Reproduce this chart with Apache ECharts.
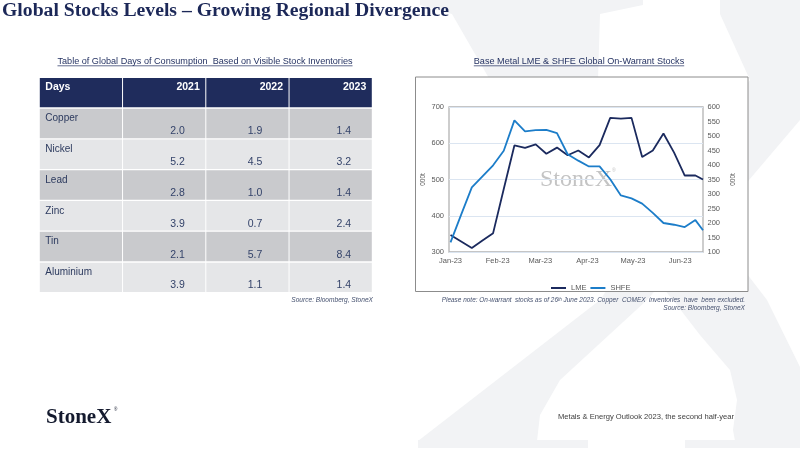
<!DOCTYPE html>
<html>
<head>
<meta charset="utf-8">
<title>Global Stocks Levels</title>
<script src="https://cdn.jsdelivr.net/npm/echarts@6/dist/echarts.min.js"></script>
<style>
  html, body { margin: 0; padding: 0; background: #fff; }
  #main { width: 800px; height: 450px; }
</style>
</head>
<body>
<div id="main"></div>
<script>
// table of global days of consumption
var tableHead = ['Days', '2021', '2022', '2023'];
var metals = ['Copper', 'Nickel', 'Lead', 'Zinc', 'Tin', 'Aluminium'];
var days2021 = [2.0, 5.2, 2.8, 3.9, 2.1, 3.9];
var days2022 = [1.9, 4.5, 1.0, 0.7, 5.7, 1.1];
var days2023 = [1.4, 3.2, 1.4, 2.4, 8.4, 1.4];

// on-warrant stocks, 000t, weekly
var weeks = ['2023-01-01', '2023-01-08', '2023-01-15', '2023-01-22', '2023-01-29',
  '2023-02-05', '2023-02-12', '2023-02-19', '2023-02-26',
  '2023-03-05', '2023-03-12', '2023-03-19', '2023-03-26',
  '2023-04-02', '2023-04-09', '2023-04-16', '2023-04-23', '2023-04-30',
  '2023-05-07', '2023-05-14', '2023-05-21', '2023-05-28',
  '2023-06-04', '2023-06-11', '2023-06-16'];
var lme = [347, 329, 311, 332, 352, 474, 594, 587, 597, 571, 588, 567, 580,
  561, 595, 670, 668, 670, 562, 580, 627, 574, 511, 511, 500];
var shfe = [133, 229, 323, 361, 399, 449, 554, 516, 520, 521, 510, 437, 415,
  395, 395, 351, 295, 285, 267, 235, 200, 194, 186, 210, 175];

var monthTicks = ['2023-01-01', '2023-02-01', '2023-03-01', '2023-04-01', '2023-05-01', '2023-06-01'];
var monthLabels = ['Jan-23', 'Feb-23', 'Mar-23', 'Apr-23', 'May-23', 'Jun-23'];

var NAVY = '#1c2858';
var SANS = '"Liberation Sans", Arial, sans-serif';
var SERIF = '"Liberation Serif", "Times New Roman", serif';

// dates -> day number from 1 Jan 2023
function dayNo(s) {
  var p = s.split('-');
  return Math.round((Date.UTC(+p[0], +p[1] - 1, +p[2]) - Date.UTC(2023, 0, 1)) / 86400000);
}
var monthDays = monthTicks.map(dayNo);

var measureCtx = document.createElement('canvas').getContext('2d');
function textWidth(str, font) {
  measureCtx.font = font;
  return measureCtx.measureText(str).width;
}

var tableValues = [days2021, days2022, days2023];
var tableCells = [];
for (var r = 0; r <= metals.length; r++) {
  for (var c = 0; c < tableHead.length; c++) tableCells.push([c, r]);
}
var valueShift = [0, 13.4, 7.5, 13.2];

function renderCell(params, api) {
  var c = api.value(0), r = api.value(1);
  var p = api.coord([c, r]);
  var s = api.size([1, 1]);
  var x0 = p[0] - s[0] / 2, y0 = p[1] - s[1] / 2;
  var fill = r === 0 ? '#1f2c5c' : (r % 2 === 1 ? '#c9cacd' : '#e5e6e8');
  var kids = [{
    type: 'rect',
    shape: { x: x0 + 0.5, y: y0 + 0.7, width: s[0] - 1, height: s[1] - 1.4 },
    style: { fill: fill }
  }];
  if (r === 0) {
    kids.push({
      type: 'text',
      style: {
        text: tableHead[c],
        x: c === 0 ? x0 + 6 : x0 + s[0] - 6,
        y: y0 + 10,
        textAlign: c === 0 ? 'left' : 'right',
        textVerticalAlign: 'middle',
        font: 'bold 10.5px ' + SANS,
        fill: '#ffffff'
      }
    });
  } else if (c === 0) {
    kids.push({
      type: 'text',
      style: {
        text: metals[r - 1], x: x0 + 6, y: y0 + 10.5,
        textAlign: 'left', textVerticalAlign: 'middle',
        font: '10px ' + SANS, fill: '#2c3a5e'
      }
    });
  } else {
    kids.push({
      type: 'text',
      style: {
        text: tableValues[c - 1][r - 1].toFixed(1),
        x: p[0] + valueShift[c], y: y0 + 23.5,
        textAlign: 'center', textVerticalAlign: 'middle',
        font: '10.5px ' + SANS, fill: '#34436a'
      }
    });
  }
  return { type: 'group', children: kids };
}

var WM = '#f2f3f5';
var tableTitle = 'Table of Global Days of Consumption  Based on Visible Stock Inventories';
var chartTitle = 'Base Metal LME & SHFE Global On-Warrant Stocks';
var subFont = '9.1px ' + SANS;
var ttW = textWidth(tableTitle, subFont);
var ctW = textWidth(chartTitle, subFont);

var chart = echarts.init(document.getElementById('main'), null, { renderer: 'canvas' });

var option = {
  animation: false,
  backgroundColor: '#ffffff',
  graphic: {
    elements: [
      // faint X watermark
      { type: 'polygon', z: -3, shape: { points: [[420, 0], [643, 0], [643, 5], [600, 14], [598, 80], [767, 300], [800, 367], [800, 441], [735, 441], [733, 430], [737, 400], [730, 370], [700, 335], [673, 300], [490, 80], [452, 14], [420, 5]] }, style: { fill: WM } },
      { type: 'polygon', z: -3, shape: { points: [[720, 0], [800, 0], [800, 120], [647, 300], [560, 380], [540, 415], [537, 441], [418, 441], [600, 300], [750, 80], [720, 14]] }, style: { fill: WM } },
      { type: 'rect', z: -3, shape: { x: 418, y: 440, width: 170, height: 8 }, style: { fill: WM } },
      { type: 'rect', z: -3, shape: { x: 685, y: 440, width: 115, height: 8 }, style: { fill: WM } },
      // chart frame
      { type: 'rect', z: -1, shape: { x: 415.5, y: 77, width: 332.5, height: 214.5 }, style: { fill: '#ffffff', stroke: '#8c8c8c', lineWidth: 1 } },
      // StoneX mark in plot
      { type: 'text', z: 0, x: 576, y: 180, style: { text: 'StoneX', font: '24px ' + SERIF, fill: '#c4c4c4', textAlign: 'center', textVerticalAlign: 'middle' } },
      { type: 'text', z: 0, x: 612, y: 171, style: { text: '®', font: '5px ' + SANS, fill: '#c4c4c4', textAlign: 'left', textVerticalAlign: 'middle' } },
      // page title
      { type: 'text', z: 5, x: 2, y: 11, style: { text: 'Global Stocks Levels – Growing Regional Divergence', font: 'bold 19.7px ' + SERIF, fill: NAVY, textAlign: 'left', textVerticalAlign: 'middle' } },
      // table title
      { type: 'text', z: 5, x: 205, y: 61, style: { text: tableTitle, font: subFont, fill: '#1f2d5e', textAlign: 'center', textVerticalAlign: 'middle' } },
      { type: 'line', z: 5, shape: { x1: 205 - ttW / 2, y1: 65.8, x2: 205 + ttW / 2, y2: 65.8 }, style: { stroke: '#1f2d5e', lineWidth: 0.7 } },
      { type: 'text', z: 5, x: 373, y: 300, style: { text: 'Source: Bloomberg, StoneX', font: 'italic 6.6px ' + SANS, fill: '#44506e', textAlign: 'right', textVerticalAlign: 'middle' } },
      // chart title
      { type: 'text', z: 5, x: 579, y: 61, style: { text: chartTitle, font: subFont, fill: '#1f2d5e', textAlign: 'center', textVerticalAlign: 'middle' } },
      { type: 'line', z: 5, shape: { x1: 579 - ctW / 2, y1: 65.8, x2: 579 + ctW / 2, y2: 65.8 }, style: { stroke: '#1f2d5e', lineWidth: 0.7 } },
      // notes under chart
      { type: 'text', z: 5, x: 745, y: 300, style: {
          text: 'Please note: On-warrant  stocks as of 26{s|th} June 2023. Copper  COMEX  inventories  have  been excluded.',
          font: 'italic 6.45px ' + SANS, fill: '#44506e', textAlign: 'right', textVerticalAlign: 'middle',
          rich: { s: { fontSize: 4.5, fontStyle: 'italic', fill: '#44506e', verticalAlign: 'top' } } } },
      { type: 'text', z: 5, x: 745, y: 308, style: { text: 'Source: Bloomberg, StoneX', font: 'italic 6.6px ' + SANS, fill: '#44506e', textAlign: 'right', textVerticalAlign: 'middle' } },
      // footer
      { type: 'text', z: 5, x: 46, y: 418, style: { text: 'StoneX', font: 'bold 21px ' + SERIF, fill: '#141a2e', textAlign: 'left', textVerticalAlign: 'middle' } },
      { type: 'text', z: 5, x: 114, y: 410, style: { text: '®', font: '4.5px ' + SANS, fill: '#141a2e', textAlign: 'left', textVerticalAlign: 'middle' } },
      { type: 'text', z: 5, x: 734, y: 417, style: { text: 'Metals & Energy Outlook 2023, the second half-year', font: '7.6px ' + SANS, fill: '#404040', textAlign: 'right', textVerticalAlign: 'middle' } }
    ]
  },
  legend: {
    data: ['LME', 'SHFE'],
    left: 546, top: 279,
    icon: 'rect', itemWidth: 15, itemHeight: 2, itemGap: 4,
    textStyle: { fontSize: 7.5, color: '#595959', fontFamily: SANS }
  },
  grid: [
    { left: 449, top: 107, width: 254, height: 145, show: true, borderColor: '#b3b3b3', borderWidth: 1.3, backgroundColor: 'transparent' },
    { left: 39.3, top: 77.3, width: 333, height: 215.4 }
  ],
  xAxis: [
    {
      type: 'value', gridIndex: 0,
      min: -1, max: dayNo(weeks[weeks.length - 1]),
      axisLine: { show: false }, axisTick: { show: false }, splitLine: { show: false },
      axisLabel: {
        customValues: monthDays,
        formatter: function (v) {
          var i = monthDays.indexOf(v);
          return i >= 0 ? monthLabels[i] : '';
        },
        fontSize: 7.5, color: '#595959', fontFamily: SANS, margin: 5
      }
    },
    { type: 'category', gridIndex: 1, data: tableHead, show: false }
  ],
  yAxis: [
    {
      type: 'value', gridIndex: 0, position: 'left', min: 300, max: 700, interval: 100,
      axisLine: { show: false }, axisTick: { show: false },
      axisLabel: { fontSize: 7.5, color: '#595959', fontFamily: SANS, margin: 5 },
      splitLine: { lineStyle: { color: '#dbe5f1', width: 1 } },
      name: '000t', nameLocation: 'middle', nameGap: 22, nameRotate: 90,
      nameTextStyle: { fontSize: 6.5, color: '#595959', fontFamily: SANS }
    },
    {
      type: 'value', gridIndex: 0, position: 'right', min: 100, max: 600, interval: 50,
      axisLine: { show: false }, axisTick: { show: false },
      axisLabel: { fontSize: 7.5, color: '#595959', fontFamily: SANS, margin: 4.5 },
      splitLine: { show: false },
      name: '000t', nameLocation: 'middle', nameGap: 27, nameRotate: 90,
      nameTextStyle: { fontSize: 6.5, color: '#595959', fontFamily: SANS }
    },
    { type: 'category', gridIndex: 1, data: ['head'].concat(metals), inverse: true, show: false }
  ],
  series: [
    {
      name: 'LME', type: 'line', xAxisIndex: 0, yAxisIndex: 0,
      data: weeks.map(function (d, i) { return [dayNo(d), lme[i]]; }),
      showSymbol: false, symbol: 'none',
      lineStyle: { color: '#1b2a5e', width: 1.8 }, itemStyle: { color: '#1b2a5e' }, z: 3
    },
    {
      name: 'SHFE', type: 'line', xAxisIndex: 0, yAxisIndex: 1,
      data: weeks.map(function (d, i) { return [dayNo(d), shfe[i]]; }),
      showSymbol: false, symbol: 'none',
      lineStyle: { color: '#1c7dc9', width: 1.8 }, itemStyle: { color: '#1c7dc9' }, z: 3
    },
    {
      type: 'custom', xAxisIndex: 1, yAxisIndex: 2,
      renderItem: renderCell, data: tableCells, silent: true
    }
  ]
};

chart.setOption(option);
</script>
</body>
</html>
